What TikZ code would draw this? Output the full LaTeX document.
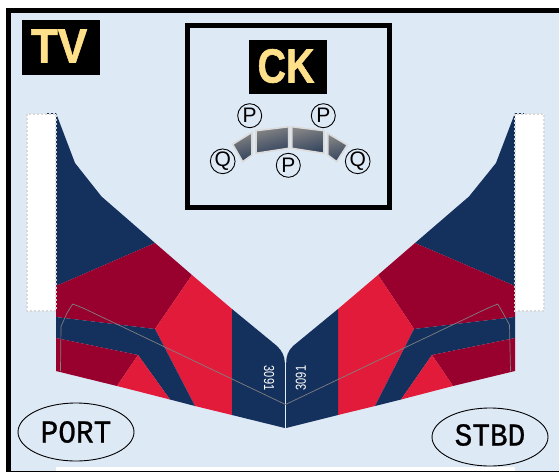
\documentclass[tikz,border=0pt]{standalone}
\usepackage{fontspec}
\setmainfont{Liberation Sans}
\newfontfamily\monof[FakeBold=0.8]{Liberation Mono}
\newfontfamily\badgef[FakeBold=1.2]{Liberation Sans Bold}
\definecolor{bgblue}{HTML}{DEE9F6}
\definecolor{navy}{HTML}{14305C}
\definecolor{darkred}{HTML}{98002E}
\definecolor{brightred}{HTML}{E31B3A}
\definecolor{badge}{HTML}{FFE08A}
\definecolor{trimline}{HTML}{808080}
\definecolor{paneltop}{HTML}{858585}
\definecolor{panelbot}{HTML}{34445E}
\tikzset{
  panel/.style={line width=1.6pt,draw=black!14,top color=paneltop,bottom color=panelbot,shading angle=15},
  seat/.style={circle,draw=black,line width=0.9pt,minimum size=24pt,inner sep=0pt,font=\fontsize{21}{21}\selectfont},
  badgebox/.style={text=badge,inner sep=0pt,font=\fontsize{48}{48}\selectfont\badgef},
  sidelabel/.style={ellipse,draw=black,line width=0.9pt,minimum width=116pt,minimum height=58pt,inner sep=0pt},
  sidetext/.style={inner sep=0pt,font=\fontsize{32}{32}\selectfont\monof},
  tailnum/.style={text=white,inner sep=0pt,font=\fontsize{14.5}{15}\selectfont},
  blank/.style={fill=white,draw=black!15,line width=2pt,dash pattern=on 2pt off 2pt},
  trim/.style={draw=trimline,line width=0.7pt,line join=round}
}
\usetikzlibrary{shapes.geometric}
\begin{document}
\begin{tikzpicture}[x=1pt,y=-1pt]
\useasboundingbox (0,0) rectangle (559,472);
\fill[white] (0,0) rectangle (559,472);
\fill[bgblue] (11,12) rectangle (559,471);
\fill[white] (56,467) rectangle (515,471);
\fill[black] (6,7.5) rectangle (559,12.5);
\fill[black] (6,7.5) rectangle (11,472);
\fill[black] (6,470.7) rectangle (559,472);
% port wing
\fill[navy] (47,113) -- (56,113) -- (75,163) -- (101.5,196.5) -- (155,243) -- (56,286) -- cycle;
\fill[darkred] (56,286) -- (155,243) -- (192,275) -- (155,329) -- (56,317) -- cycle;
\fill[brightred] (192,275) -- (232,309) -- (232,415) -- (195,406) -- (155,329) -- cycle;
\fill[navy] (56,317) -- (155,329) -- (195,406) -- (170,399.5) -- (138,355) -- (56,338) -- cycle;
\fill[darkred] (56,338) -- (138,355) -- (117,386) -- (56,371) -- cycle;
\fill[brightred] (138,355) -- (170,399.5) -- (117,386) -- cycle;
\fill[navy] (232,309) -- (277,346) .. controls (282,351) and (284.8,356) .. (284.8,363) -- (284.8,428) -- (232,415) -- cycle;
% starboard wing
\fill[navy] (524,113) -- (515,113) -- (496,163) -- (469,196.5) -- (415,243) -- (515,286) -- cycle;
\fill[darkred] (515,286) -- (415,243) -- (378,275) -- (414,329) -- (515,317) -- cycle;
\fill[brightred] (378,275) -- (338,309) -- (338,415) -- (375,406) -- (414,329) -- cycle;
\fill[navy] (515,317) -- (414,329) -- (375,406) -- (401,399.5) -- (432,355) -- (515,338) -- cycle;
\fill[darkred] (515,338) -- (432,355) -- (453,386) -- (515,371) -- cycle;
\fill[brightred] (432,355) -- (401,399.5) -- (453,386) -- cycle;
\fill[navy] (338,309) -- (293,346) .. controls (288,351) and (286.2,356) .. (286.2,363) -- (286.2,428) -- (338,415) -- cycle;
\draw[bgblue!85!white,line width=1pt] (285.5,358) -- (285.5,428);
% blanks
\draw[blank] (27,114) rectangle (56,311);
\draw[blank] (515,114) rectangle (544,311);
% trim line
\draw[trim] (60.5,371) -- (61,326.5) -- (67,313) -- (72.7,304) -- (83,308) -- (285.5,404.5) -- (488,308) -- (497.7,304) -- (503,313) -- (509.5,325) -- (510.5,371);
\node[tailnum,rotate=-90] (numL) at (269,378) {\scalebox{0.76}[1]{3091}};
\node[tailnum,rotate=90] (numR) at (301,378) {\scalebox{0.76}[1]{3091}};
% side labels
\node[sidelabel] (port) at (76,432) {};
\node[sidetext] (portT) at (76,432) {\scalebox{0.92}[1]{PORT}};
\node[sidelabel] (stbd) at (490,437) {};
\node[sidetext] (stbdT) at (490,435) {\scalebox{0.92}[1]{STBD}};
% TV
\fill[black] (22,20) rectangle (100,75);
\node[badgebox] (tv) at (59,46) {\scalebox{0.92}[1]{TV}};
% CK
\draw[black,line width=5pt] (187.5,25.5) rectangle (389.5,207.5);
\fill[black] (249,40) rectangle (326.7,94);
\node[badgebox] (ck) at (286,66) {\scalebox{0.82}[1]{CK}};
\path[panel] (232.7,144.3) -- (252,132.3) -- (252,155) -- (242.7,161.7) -- cycle;
\path[panel] (256,130.7) -- (288.7,126.7) -- (288.7,148.3) -- (256,153.3) -- cycle;
\path[panel] (291.7,126.7) -- (324,130.7) -- (324,153.3) -- (291.7,148.3) -- cycle;
\path[panel] (327.7,133.3) -- (347.3,145) -- (336.7,161.7) -- (327.7,155) -- cycle;
\node[seat] (p1) at (249.7,115.7) {P};
\node[seat] (p2) at (323.3,115.7) {P};
\node[seat] (p3) at (288.3,165.3) {P};
\node[seat] (q1) at (222.7,161.3) {Q};
\node[seat] (q2) at (357.7,161.3) {Q};
\end{tikzpicture}
\end{document}
